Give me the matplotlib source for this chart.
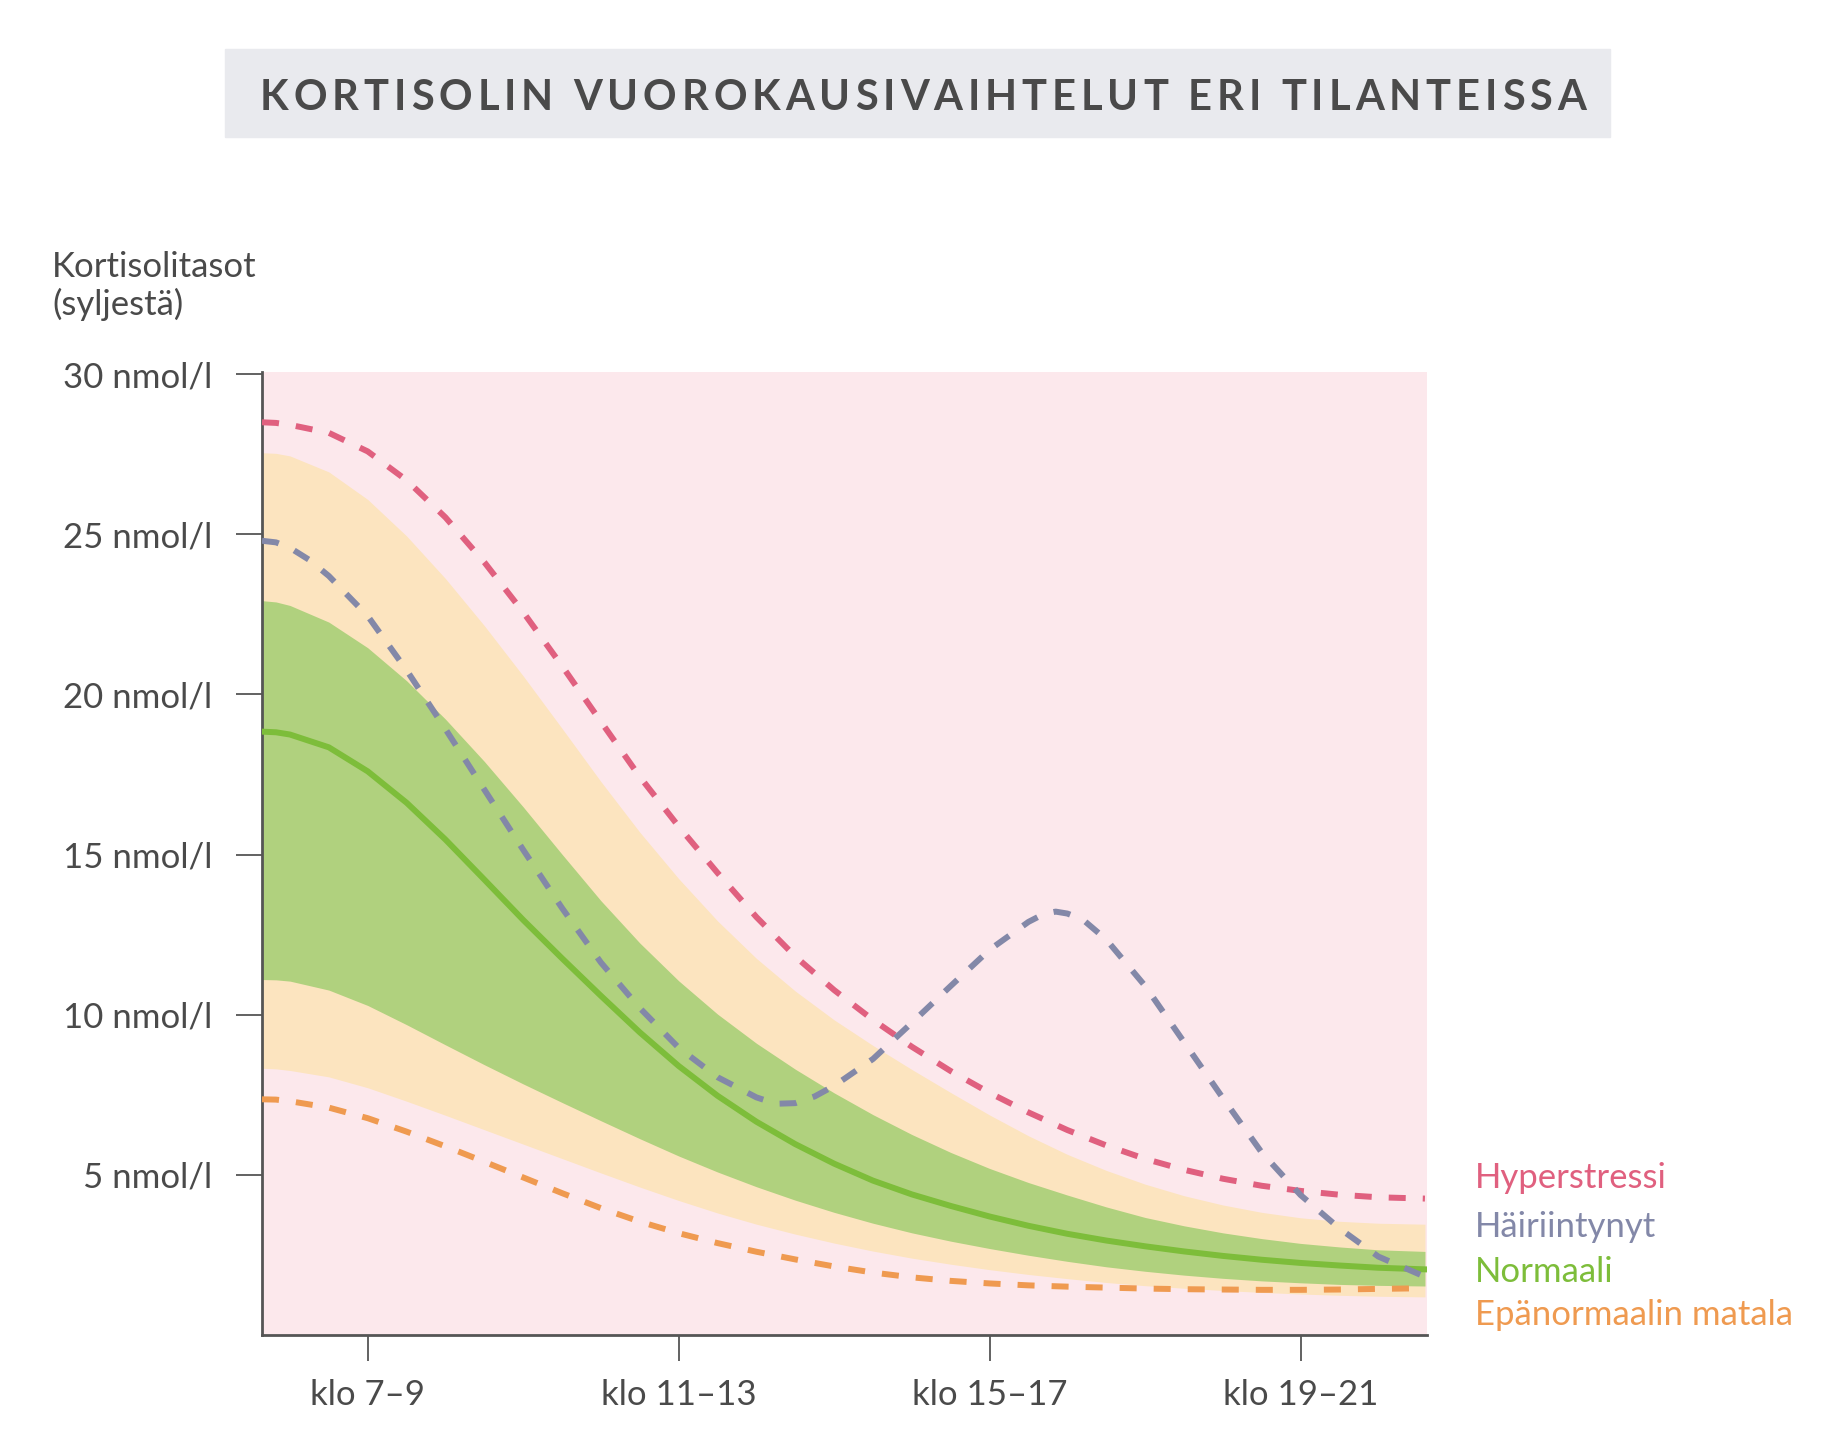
import matplotlib
matplotlib.use("Agg")
import matplotlib.pyplot as plt
from matplotlib.patches import Rectangle

plt.rcParams["font.family"] = ["Lato", "DejaVu Sans"]

# hours of the day (x), values in nmol/l
hours = [6.64, 6.82, 7.0, 7.5, 8.0, 8.5, 9.0, 9.5, 10.0, 10.5, 11.0, 11.5, 12.0, 12.5,
         13.0, 13.5, 14.0, 14.5, 15.0, 15.5, 16.0, 16.5, 17.0, 17.5, 18.0, 18.5, 19.0,
         19.5, 20.0, 20.5, 21.0, 21.6]

hyperstressi = [28.5, 28.48, 28.42, 28.17, 27.59, 26.69, 25.53, 24.13, 22.57, 20.89,
                19.15, 17.43, 15.88, 14.43, 13.05, 11.82, 10.77, 9.84, 9.0, 8.24, 7.56,
                6.95, 6.4, 5.92, 5.5, 5.16, 4.88, 4.66, 4.5, 4.38, 4.3, 4.26]

wide_upper = [27.55, 27.53, 27.45, 26.95, 26.09, 24.95, 23.62, 22.15, 20.58, 18.94,
              17.28, 15.7, 14.25, 12.93, 11.76, 10.74, 9.84, 9.04, 8.29, 7.57, 6.87,
              6.22, 5.64, 5.14, 4.71, 4.35, 4.06, 3.83, 3.66, 3.55, 3.49, 3.46]
normal_upper = [22.93, 22.89, 22.78, 22.26, 21.46, 20.43, 19.23, 17.91, 16.49, 15.01,
                13.56, 12.24, 11.06, 10.02, 9.11, 8.3, 7.56, 6.88, 6.26, 5.7, 5.2, 4.76,
                4.37, 4.0, 3.67, 3.41, 3.19, 3.01, 2.86, 2.75, 2.66, 2.61]
normaali = [18.84, 18.82, 18.75, 18.35, 17.6, 16.62, 15.47, 14.22, 12.96, 11.76, 10.59,
            9.45, 8.4, 7.47, 6.66, 5.96, 5.35, 4.82, 4.39, 4.03, 3.7, 3.41, 3.16, 2.95,
            2.77, 2.61, 2.47, 2.35, 2.25, 2.17, 2.1, 2.05]
normal_lower = [11.1, 11.09, 11.05, 10.77, 10.29, 9.69, 9.06, 8.44, 7.84, 7.26, 6.69,
                6.13, 5.59, 5.09, 4.63, 4.21, 3.83, 3.49, 3.19, 2.93, 2.7, 2.49, 2.3,
                2.13, 1.99, 1.87, 1.77, 1.69, 1.63, 1.58, 1.55, 1.53]
wide_lower = [8.33, 8.31, 8.26, 8.06, 7.72, 7.3, 6.86, 6.41, 5.96, 5.51, 5.06, 4.62, 4.2,
              3.81, 3.46, 3.15, 2.87, 2.62, 2.4, 2.21, 2.04, 1.89, 1.76, 1.64, 1.54,
              1.46, 1.39, 1.33, 1.28, 1.24, 1.21, 1.19]

matala = [7.36, 7.35, 7.3, 7.1, 6.77, 6.35, 5.89, 5.41, 4.92, 4.43, 3.96, 3.54, 3.18,
          2.87, 2.6, 2.36, 2.14, 1.95, 1.8, 1.69, 1.61, 1.55, 1.51, 1.48, 1.45, 1.43,
          1.42, 1.41, 1.41, 1.42, 1.44, 1.46]

hairi_hours = [6.64, 6.82, 7.0, 7.25, 7.5, 8.0, 8.5, 9.0, 9.5, 10.0, 10.5, 11.0, 11.5,
               12.0, 12.5, 13.0, 13.25, 13.5, 13.75, 14.0, 14.5, 15.0, 15.5, 16.0, 16.5,
               16.7, 16.85, 17.0, 17.2, 17.5, 18.0, 18.5, 19.0, 19.5, 20.0, 20.5, 21.0,
               21.6]
hairiintynyt = [24.8, 24.75, 24.58, 24.2, 23.7, 22.45, 20.76, 18.92, 17.03, 15.15,
                13.33, 11.63, 10.21, 8.97, 8.05, 7.42, 7.22, 7.24, 7.45, 7.78, 8.62,
                9.75, 10.9, 12.03, 12.9, 13.15, 13.22, 13.16, 12.97, 12.35, 10.9, 9.15,
                7.4, 5.7, 4.37, 3.33, 2.45, 1.82]

x_ticks = [8, 12, 16, 20]
x_labels = ["klo 7–9", "klo 11–13", "klo 15–17", "klo 19–21"]
y_ticks = [5, 10, 15, 20, 25, 30]
y_labels = [f"{v} nmol/l" for v in y_ticks]

legend = [("Hyperstressi", "#e0607f"), ("Häiriintynyt", "#8388a8"),
          ("Normaali", "#7dbd3a"), ("Epänormaalin matala", "#ef9a50")]

TEXT = "#4a4a4a"
AXIS = "#555555"
W, H = 1826, 1432

fig = plt.figure(figsize=(W / 100, H / 100), dpi=100)
ax = fig.add_axes([262 / W, (H - 1335) / H, (1426.5 - 262) / W, (1335 - 372) / H])
ax.set_facecolor("#fce8ec")

ax.fill_between(hours, wide_lower, wide_upper, color="#fce4bf", lw=0, zorder=1)
ax.fill_between(hours, normal_lower, normal_upper, color="#b0d17e", lw=0, zorder=2)

lw = 4.3
ax.plot(hours, normaali, color="#7dbd3a", lw=lw, zorder=3, solid_joinstyle="round")
ax.plot(hours, matala, color="#ef9a50", lw=lw, dashes=(2.85, 2.85), zorder=4)
ax.plot(hours, hyperstressi, color="#e0607f", lw=lw, dashes=(2.85, 2.85), zorder=4)
ax.plot(hairi_hours, hairiintynyt, color="#8388a8", lw=lw, dashes=(2.85, 2.85), zorder=5)

ax.set_xlim(6.64, 21.62)
ax.set_ylim(0, 30.07)
ax.set_xticks(x_ticks, x_labels)
ax.set_yticks(y_ticks, y_labels)

for s in ["top", "right"]:
    ax.spines[s].set_visible(False)
for s in ["left", "bottom"]:
    ax.spines[s].set_color(AXIS)
    ax.spines[s].set_linewidth(2)

ax.tick_params(axis="y", length=19, width=1.3, color=AXIS, pad=17,
               labelsize=25, labelcolor=TEXT)
ax.tick_params(axis="x", length=19, width=1.3, color=AXIS, pad=13,
               labelsize=25, labelcolor=TEXT)

fig.text(52 / W, 1 - 277 / H, "Kortisolitasot", fontsize=25, color=TEXT, va="baseline")
fig.text(52 / W, 1 - 315 / H, "(syljestä)", fontsize=25, color=TEXT, va="baseline")

for i, (name, col) in enumerate(legend):
    y = [1188, 1237, 1282, 1325][i]
    fig.text(1475 / W, 1 - y / H, name, fontsize=25, color=col, va="baseline")

# title bar with spaced capitals
fig.add_artist(Rectangle((225 / W, 1 - 137 / H), (1610 - 225) / W, 88 / H,
                         transform=fig.transFigure, color="#e9eaee", zorder=0))


def tracked_text(x_left, x_right, y, s, **kw):
    r = fig.canvas.get_renderer()

    def width(txt):
        t = fig.text(0, 0, txt, **kw)
        w = t.get_window_extent(r).width
        t.remove()
        return w

    base = width("II")
    widths = [width("I" + ch + "I") - base for ch in s]
    track = (x_right - x_left - sum(widths)) / (len(s) - 1)
    x = x_left
    for ch, cw in zip(s, widths):
        fig.text(x / W, y, ch, ha="left", va="baseline", **kw)
        x += cw + track


tracked_text(260, 1586, 1 - 110 / H, "KORTISOLIN VUOROKAUSIVAIHTELUT ERI TILANTEISSA",
             fontsize=30, fontweight="bold", color=TEXT)

fig.savefig("out.png", dpi=100)
